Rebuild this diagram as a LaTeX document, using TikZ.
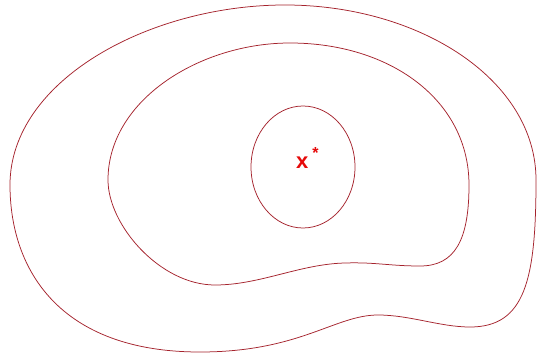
\documentclass[tikz,border=0pt]{standalone}
\usepackage{fontspec}
\setsansfont{Liberation Sans}
\definecolor{contour}{RGB}{165,35,45}
\definecolor{optred}{RGB}{230,10,10}
\begin{document}
\begin{tikzpicture}[x=1pt,y=-1pt,
  level/.style={draw=contour,line width=0.75pt},
  optlabel/.style={text=optred,font=\sffamily\bfseries\fontsize{22}{22}\selectfont,inner sep=0pt,anchor=base west}]
\useasboundingbox[fill=white] (0,0) rectangle (537,358);
% outer contour
\draw[level] (285,5) .. controls (420,5) and (536,80) .. (536,180)
  .. controls (536,280) and (525,327) .. (470,327)
  .. controls (440,327) and (410,315) .. (378,315)
  .. controls (335,315) and (300,352) .. (200,352)
  .. controls (60,352) and (10,270) .. (10,185)
  .. controls (10,80) and (150,5) .. (285,5) -- cycle;
% middle contour
\draw[level] (290,43) .. controls (390,43) and (469,100) .. (469,185)
  .. controls (469,240) and (455,266) .. (420,266)
  .. controls (390,266) and (375,262) .. (345,263)
  .. controls (300,264) and (260,285) .. (215,285)
  .. controls (160,285) and (108,225) .. (108,180)
  .. controls (108,100) and (200,43) .. (290,43) -- cycle;
% inner contour
\draw[level] (303,167) ellipse [x radius=52, y radius=61];
% optimum
\node[optlabel] (xstar) at (296,168) {x\hspace{4pt}\raisebox{0.45em}{\fontsize{16}{16}\selectfont *}};
\end{tikzpicture}
\end{document}
